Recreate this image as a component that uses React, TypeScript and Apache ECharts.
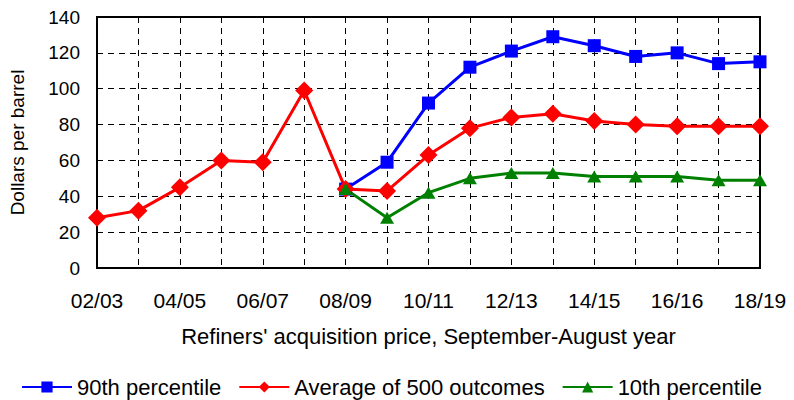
import React, { useEffect, useRef } from "react";
import * as echarts from "echarts";

const categories = [
  "02/03", "03/04", "04/05", "05/06", "06/07", "07/08", "08/09", "09/10", "10/11",
  "11/12", "12/13", "13/14", "14/15", "15/16", "16/16", "17/18", "18/19",
];
const p90 = [null, null, null, null, null, null, 44, 59, 92, 112, 121, 129, 124, 118, 120, 114, 115];
const average = [28, 32, 45, 60, 59, 99, 44, 43, 63, 78, 84, 86, 82, 80, 79, 79, 79];
const p10 = [null, null, null, null, null, null, 44, 28, 42, 50, 53, 53, 51, 51, 51, 49, 49];
const yTicks = { min: 0, max: 140, interval: 20 };

const FONT = "'Liberation Sans', Arial, sans-serif";

export default function App() {
  const ref = useRef<HTMLDivElement>(null);
  useEffect(() => {
    if (!ref.current) return;
    const chart = echarts.init(ref.current, null, { renderer: "svg" });
    const dashed = { color: "#000", width: 1, type: [6, 5] as any };
    chart.setOption({
      animation: false,
      backgroundColor: "#fff",
      textStyle: { fontFamily: FONT, color: "#000" },
      grid: {
        left: 97, right: 34, top: 17, bottom: 132,
        show: true, borderColor: "#000", borderWidth: 2, backgroundColor: "transparent",
      },
      legend: {
        left: 16, top: 371, itemWidth: 50, itemHeight: 14, itemGap: 17,
        textStyle: { fontSize: 22, color: "#000", fontFamily: FONT },
        data: ["90th percentile", "Average of 500 outcomes", "10th percentile"],
      },
      xAxis: {
        type: "category", data: categories, boundaryGap: false,
        axisLine: { lineStyle: { color: "#000", width: 2 } },
        axisTick: { show: false },
        axisLabel: { interval: 1, fontSize: 21, color: "#000", margin: 22, fontFamily: FONT },
        splitLine: { show: true, interval: 0, lineStyle: dashed },
        name: "Refiners' acquisition price, September-August year",
        nameLocation: "middle", nameGap: 57,
        nameTextStyle: { fontSize: 22, color: "#000", fontFamily: FONT },
      },
      yAxis: {
        type: "value", min: yTicks.min, max: yTicks.max, interval: yTicks.interval,
        axisLine: { show: true, lineStyle: { color: "#000", width: 2 } },
        axisTick: { show: false },
        axisLabel: { fontSize: 19, color: "#000", margin: 17, fontFamily: FONT },
        splitLine: { show: true, lineStyle: dashed },
        name: "Dollars per barrel", nameLocation: "middle", nameGap: 70,
        nameTextStyle: { fontSize: 19, color: "#000", fontFamily: FONT },
      },
      series: [
        {
          name: "90th percentile", type: "line", data: p90, color: "#0000FF",
          symbol: "rect", symbolSize: 13, lineStyle: { width: 3, color: "#0000FF" },
          itemStyle: { color: "#0000FF" },
        },
        {
          name: "Average of 500 outcomes", type: "line", data: average, color: "#FF0000",
          symbol: "diamond", symbolSize: [18, 18], lineStyle: { width: 3, color: "#FF0000" },
          itemStyle: { color: "#FF0000" },
        },
        {
          name: "10th percentile", type: "line", data: p10, color: "#008000",
          symbol: "triangle", symbolSize: [14, 12], lineStyle: { width: 3, color: "#008000" },
          itemStyle: { color: "#008000" },
        },
      ],
    });
    return () => chart.dispose();
  }, []);
  return <div ref={ref} style={{ width: 794, height: 400, position: "absolute", left: 0, top: 0 }} />;
}
